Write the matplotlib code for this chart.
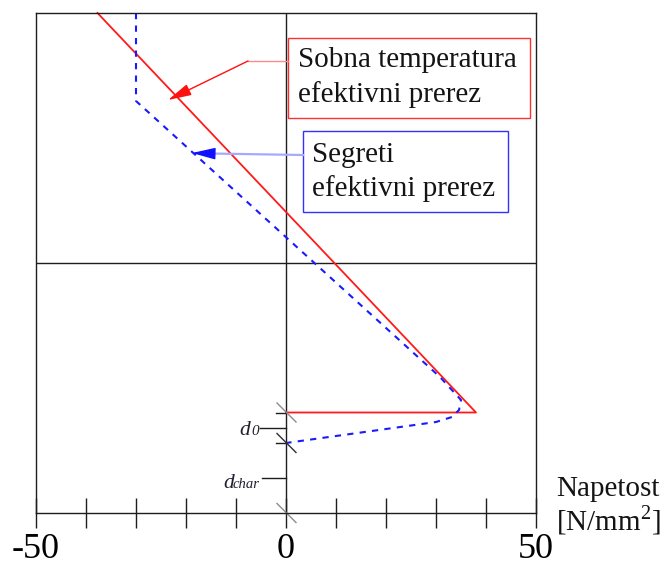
#Stress distribution over the section depth: room temperature vs heated effective section

import numpy as np
import matplotlib.pyplot as plt
from matplotlib.patches import Rectangle

plt.rcParams['font.family']=['Liberation Serif','DejaVu Serif']
plt.rcParams['mathtext.fontset']='custom'
plt.rcParams['mathtext.rm']='Liberation Serif'

#Stress [N/mm2] against depth (0 = bottom edge, 100 = top edge)
room_x=[-37.7,38.0,0.0]
room_y=[100.0,20.1,20.1]
fire_x=[-30.0,-30.0,30.8,35.0,34.6,33.2,30.0,0.0]
fire_y=[100.0,82.4,27.2,22.6,20.6,19.2,18.2,14.0]

#Axis ticks
x_ticks=[-50,-40,-30,-20,-10,0,10,20,30,40,50]
x_tick_labels=['-50','','','','','0','','','','','50']

#Levels marked on the depth axis
d0_level=17.0
dchar_level=7.0
neutral_room=20.1
neutral_fire=14.0

fig=plt.figure(figsize=(6.64,5.65),dpi=100)
ax=fig.add_axes([36/664,52/565,500/664,500/565])
ax.set_xlim(-50,50)
ax.set_ylim(0,100)

frame='#1e1e1e'
for s in ax.spines.values():
	s.set_color(frame)
	s.set_linewidth(1.0)
ax.axhline(50,color=frame,lw=1.0)
ax.axvline(0,color=frame,lw=1.0)

#Stress lines
ax.plot(room_x,room_y,color='#ff1a1a',lw=1.3,clip_on=False)
ax.plot(fire_x,fire_y,color='#1a1aff',lw=1.5,dashes=(3,3),clip_on=False)

#Ticks
ax.set_xticks(x_ticks)
ax.set_xticklabels(x_tick_labels,fontsize=26)
ax.tick_params(axis='x',direction='inout',length=21,width=1.0,color=frame,pad=4)
ax.set_yticks([])

#Marks on the depth axis
for y in [neutral_room,neutral_fire]:
	ax.plot([-2,0],[y,y],color=frame,lw=1.0)
for y,c in [(neutral_room,'#8c8c8c'),(neutral_fire,'#303030'),(0.0,'#8c8c8c')]:
	ax.plot([-1.8,2.0],[y+1.9,y-1.9],color=c,lw=1.0,clip_on=False)
ax.plot([-5.2,0],[d0_level,d0_level],color=frame,lw=1.0)
ax.plot([-4.8,0],[dchar_level,dchar_level],color=frame,lw=1.0)

lab='#202030'
ax.text(-9.4,d0_level-1.4,'d',fontsize=15.5,style='italic',color=lab,va='baseline')
ax.text(-7.0,d0_level-1.4,'0',fontsize=11,style='italic',color=lab,va='baseline')
ax.text(-12.6,dchar_level-2.0,'d',fontsize=15.5,style='italic',color=lab,va='baseline')
ax.text(-10.6,dchar_level-2.0,'char',fontsize=10.5,style='italic',color=lab,va='baseline')

#Legend boxes with leader arrows
txt='#141414'
ax.add_patch(Rectangle((0.4,79.0),48.4,16.0,fill=False,edgecolor='#ff3030',lw=1.0,clip_on=False))
ax.text(2.4,89.2,'Sobna temperatura',fontsize=21,color=txt,va='baseline')
ax.text(2.4,82.2,'efektivni prerez',fontsize=21,color=txt,va='baseline')
ax.plot([0.4,-7.6],[90.4,90.4],color='#ff8a8a',lw=1.0)
ax.annotate('',xy=(-23.6,82.6),xytext=(-7.6,90.4),
	arrowprops=dict(arrowstyle='-|>,head_length=1.2,head_width=0.3',mutation_scale=12,
	color='#ff8a8a',fc='#ff1010',ec='#ff1010',lw=1.0,shrinkA=0,shrinkB=0))

ax.add_patch(Rectangle((3.4,60.2),41.0,16.2,fill=False,edgecolor='#3030ff',lw=1.0,clip_on=False))
ax.text(5.2,70.2,'Segreti',fontsize=21,color=txt,va='baseline')
ax.text(5.2,63.4,'efektivni prerez',fontsize=21,color=txt,va='baseline')
ax.plot([3.4,-15.2],[71.6,71.9],color='#a8a8ff',lw=1.6)
ax.annotate('',xy=(-18.8,72.0),xytext=(-15.2,71.9),
	arrowprops=dict(arrowstyle='-|>,head_length=1.2,head_width=0.3',mutation_scale=12,
	fc='#1010ff',ec='#1010ff',lw=1.0,shrinkA=0,shrinkB=0))

#Axis title
ax.text(54.0,3.4,'Napetost',fontsize=21,color=txt,va='baseline')
ax.text(54.0,-3.4,'[N/mm$^{2}$]',fontsize=21,color=txt,va='baseline')

plt.savefig('out.png',dpi=100)
